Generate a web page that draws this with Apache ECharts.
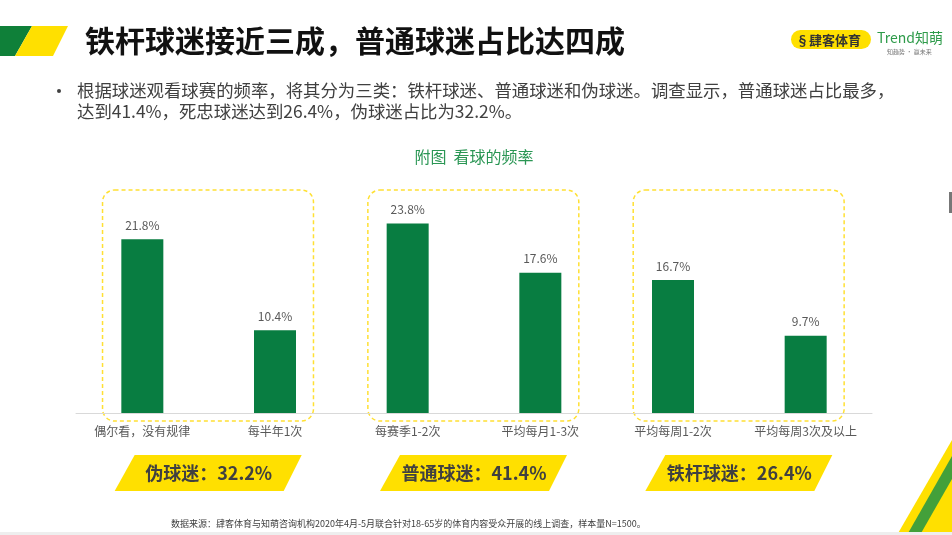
<!DOCTYPE html>
<html>
<head>
<meta charset="utf-8">
<script src="https://cdn.jsdelivr.net/npm/echarts@6/dist/echarts.min.js"></script>
<style>
html,body{margin:0;padding:0;background:#fff;}
#main{width:952px;height:535px;}
</style>
</head>
<body>
<div id="main"></div>
<script>
// ---- data ----
var categories = ['偶尔看，没有规律', '每半年1次', '每赛季1-2次', '平均每月1-3次', '平均每周1-2次', '平均每周3次及以上'];
var values = [21.8, 10.4, 23.8, 17.6, 16.7, 9.7];
var groupNames = ['伪球迷', '普通球迷', '铁杆球迷'];
var groupShares = [32.2, 41.4, 26.4];
var groupMembers = [[0, 1], [2, 3], [4, 5]];
var titleText = '铁杆球迷接近三成，普通球迷占比达四成';
var bulletLines = ['根据球迷观看球赛的频率，将其分为三类：铁杆球迷、普通球迷和伪球迷。调查显示，普通球迷占比最多，',
                   '达到41.4%，死忠球迷达到26.4%，伪球迷占比为32.2%。'];
var chartTitle = '附图  看球的频率';
var sourceText = '数据来源：肆客体育与知萌咨询机构2020年4月-5月联合针对18-65岁的体育内容受众开展的线上调查，样本量N=1500。';

var FONT = '"Noto Sans CJK SC","Microsoft YaHei",sans-serif';
var GREEN = '#087D41';
var YELLOW = '#FFE000';

var chart = echarts.init(document.getElementById('main'), null, {renderer: 'canvas'});
chart.setOption({
  backgroundColor: '#fff',
  textStyle: {fontFamily: FONT},
  animation: false,
  grid: {left: 76, right: 80, top: 174, bottom: 122},
  xAxis: {
    type: 'category',
    data: categories,
    axisLine: {lineStyle: {color: '#D9D9D9', width: 1}},
    axisTick: {show: false},
    axisLabel: {color: '#595959', fontSize: 12, margin: 12, fontFamily: FONT, interval: 0}
  },
  yAxis: {
    type: 'value', min: 0, max: 30,
    show: false, splitLine: {show: false}
  },
  series: [{
    type: 'bar',
    data: values,
    barWidth: 42,
    itemStyle: {color: GREEN},
    label: {
      show: true, position: 'top', distance: 8,
      color: '#595959', fontSize: 12, fontFamily: FONT,
      formatter: function (p) { return p.value.toFixed(1) + '%'; }
    }
  }]
});

var g = [];
// header decoration
g.push({type: 'polygon', shape: {points: [[0, 26], [32, 26], [15, 56], [0, 56]]}, style: {fill: '#0F8039'}});
g.push({type: 'polygon', shape: {points: [[32, 26], [68, 26], [53, 56], [15, 56]]}, style: {fill: YELLOW}});
g.push({type: 'text', x: 85, y: 41, style: {text: titleText, font: 'bold 30px ' + FONT, fill: '#111', textVerticalAlign: 'middle'}});
// top-right logos
g.push({type: 'rect', shape: {x: 791, y: 30, width: 80, height: 19, r: 9.5}, style: {fill: YELLOW}});
g.push({type: 'text', x: 796, y: 40, style: {text: '§', font: 'bold 13px ' + FONT, fill: '#333', textVerticalAlign: 'middle'}});
g.push({type: 'text', x: 809, y: 40, style: {text: '肆客体育', font: 'bold 13px ' + FONT, fill: '#333', textVerticalAlign: 'middle'}});
g.push({type: 'text', x: 877, y: 38, style: {text: 'Trend知萌', font: '14px ' + FONT, fill: '#2E9B4A', textVerticalAlign: 'middle'}});
g.push({type: 'text', x: 887, y: 52, style: {text: '知趋势 · 赢未来', font: '6px ' + FONT, fill: '#777', textVerticalAlign: 'middle'}});
// bullet text
g.push({type: 'circle', shape: {cx: 59, cy: 91, r: 2}, style: {fill: '#404040'}});
g.push({type: 'text', x: 77, y: 90, style: {text: bulletLines[0], font: '17.4px ' + FONT, fill: '#404040', textVerticalAlign: 'middle'}});
g.push({type: 'text', x: 77, y: 111, style: {text: bulletLines[1], font: '17.4px ' + FONT, fill: '#404040', textVerticalAlign: 'middle'}});
// chart title
g.push({type: 'text', x: 474, y: 157, style: {text: chartTitle, font: '16px ' + FONT, fill: '#2A9654', textAlign: 'center', textVerticalAlign: 'middle'}});
// right edge mark
g.push({type: 'rect', shape: {x: 949, y: 192, width: 3, height: 21}, style: {fill: '#777'}});
// bottom-right decoration
g.push({type: 'polygon', shape: {points: [[897, 535], [952, 440], [952, 535]]}, style: {fill: YELLOW}});
g.push({type: 'polygon', shape: {points: [[907, 535], [952, 456], [952, 479], [920, 535]]}, style: {fill: '#43A03A'}});
g.push({type: 'rect', shape: {x: 0, y: 532, width: 952, height: 3}, style: {fill: '#EEEEEE'}});
// footer
g.push({type: 'text', x: 171, y: 524, style: {text: sourceText, font: '9px ' + FONT, fill: '#404040', textVerticalAlign: 'middle'}});

// group boxes and badges, positioned from the axis
var baseY = chart.convertToPixel({yAxisIndex: 0}, 0);
var band = chart.convertToPixel({xAxisIndex: 0}, 1) - chart.convertToPixel({xAxisIndex: 0}, 0);
groupMembers.forEach(function (m, i) {
  var x0 = chart.convertToPixel({xAxisIndex: 0}, m[0]);
  var x1 = chart.convertToPixel({xAxisIndex: 0}, m[1]);
  var left = x0 - band * 0.3, right = x1 + band * 0.29;
  var top = baseY - 223, bottom = baseY + 8;
  g.push({type: 'rect', shape: {x: left, y: top, width: right - left, height: bottom - top, r: 12},
    style: {fill: null, stroke: '#FFE033', lineWidth: 1.5, lineDash: [4, 3]}});
  var cx = (x0 + x1) / 2;
  var ty = baseY + 42, by = baseY + 78;
  g.push({type: 'polygon', shape: {points: [[cx - 74, ty], [cx + 93, ty], [cx + 75, by], [cx - 94, by]]}, style: {fill: YELLOW}});
  g.push({type: 'text', x: cx, y: (ty + by) / 2, style: {text: groupNames[i] + '：' + groupShares[i].toFixed(1) + '%',
    font: 'bold 18px ' + FONT, fill: '#404040', textAlign: 'center', textVerticalAlign: 'middle'}});
});

chart.setOption({graphic: g});
</script>
</body>
</html>
